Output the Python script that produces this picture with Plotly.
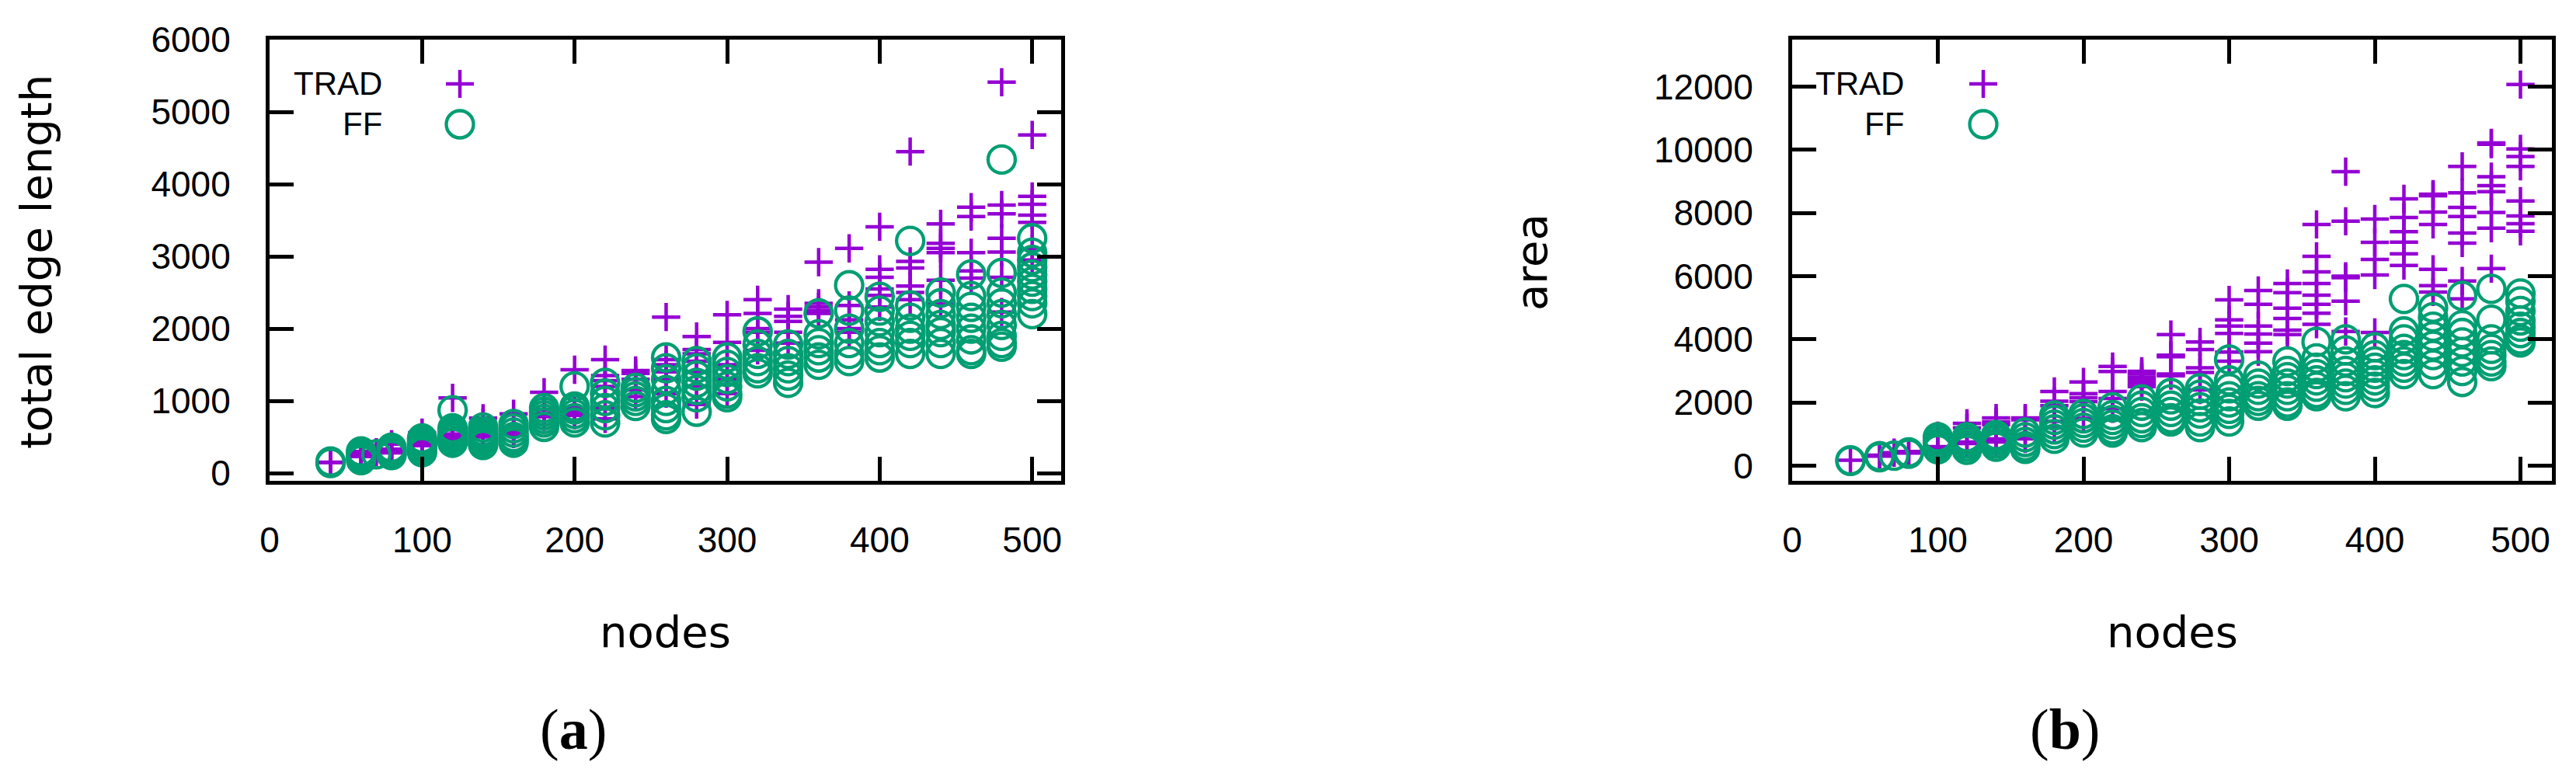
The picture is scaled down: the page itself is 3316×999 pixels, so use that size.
import plotly.graph_objects as go

W, H = 3316, 999
OFF = 8  # the page body margin shifts the figure by this much
FW, FH = W - 2 * OFF, H - 2 * OFF
PURPLE = "#9400d3"
GREEN = "#009e73"
TICK_FONT = "Liberation Sans, Arial, sans-serif"
TITLE_FONT = "DejaVu Sans, sans-serif"

# node counts of the test graphs (one column of points per value)
nodes = [40, 60, 70, 80, 100, 120, 140, 160, 180, 200, 220, 240, 260,
         280, 300, 320, 340, 360, 380, 400, 420, 440, 460, 480, 500]

# (a) total edge length, one list per node count
edge_trad = [
    [150, 145], [230, 250, 270, 300], [290], [280, 300, 330, 400],
    [380, 400, 420, 450, 560], [1040, 600, 540, 520, 500, 480],
    [760, 700, 540, 520, 500], [820, 600, 580, 560, 540],
    [1120, 880, 830, 800, 780], [1430, 900, 870, 830, 800],
    [1570, 1350, 1280, 1200, 900, 750], [1420, 1380, 1300, 1150, 1060],
    [2160, 1570, 1500, 1400, 1300, 1100], [1890, 1710, 1650, 1550, 1400, 1200, 950],
    [2190, 1810, 1500, 1300, 1100], [2400, 2210, 2000, 1950, 1700],
    [2270, 2170, 2100, 1950, 1800], [2920, 2350, 2300, 2250, 2210],
    [3110, 2320, 2120, 2000, 1950], [3410, 2820, 2710, 2550, 2460, 2300],
    [4450, 2930, 2840, 2590, 2500, 2400], [3450, 3180, 3110, 3050, 2670, 2340],
    [3680, 3550, 3050, 2800, 2700], [5410, 3710, 3590, 3250, 3060, 2710, 2230],
    [4680, 3830, 3720, 3570, 3470, 3100, 2950],
]
edge_ff = [
    [140, 160], [180, 220, 250, 280, 300], [260], [250, 280, 320, 350],
    [290, 330, 370, 400, 440, 480], [870, 420, 460, 500, 540, 580, 620],
    [390, 420, 460, 500, 540, 580, 630], [420, 460, 500, 560, 620, 680],
    [640, 700, 750, 800, 850, 900], [1200, 700, 760, 820, 880, 920],
    [1250, 1100, 1000, 900, 800, 700], [930, 1000, 1060, 1120, 1180],
    [1600, 1450, 1300, 1150, 1000, 900, 800, 750],
    [1550, 1450, 1350, 1250, 1150, 1050, 850],
    [1600, 1500, 1400, 1300, 1200, 1100, 1050],
    [1960, 1780, 1650, 1550, 1450, 1380], [1780, 1650, 1550, 1450, 1350, 1250],
    [2210, 1920, 1800, 1700, 1600, 1500], [2600, 2250, 2000, 1800, 1650, 1550],
    [2440, 2250, 2100, 1950, 1800, 1700, 1600],
    [3215, 2320, 2150, 2000, 1900, 1800, 1650],
    [2500, 2350, 2200, 2050, 1950, 1800, 1650],
    [2750, 2450, 2300, 2150, 2000, 1850, 1700, 1650],
    [4340, 2770, 2500, 2350, 2200, 2050, 1900, 1800, 1750],
    [3250, 3050, 2950, 2850, 2750, 2650, 2550, 2450, 2350, 2200],
]

# (b) area
area_trad = [
    [170], [300, 330], [410], [400, 450], [950, 600, 560, 520],
    [1340, 1200, 750, 700], [1510, 1390, 1300, 850, 750], [1510, 1450, 900, 850],
    [2350, 2040, 1900, 1400, 1200], [2650, 2280, 2150, 2030, 1500],
    [3140, 2980, 2350, 2130, 1800], [2990, 2900, 2800, 2700, 2600, 2500],
    [4150, 3500, 3450, 2900, 2850], [3920, 3680, 3100, 2950, 2400],
    [5250, 4620, 4420, 4190, 3600, 3310], [5550, 5110, 4420, 4170, 3880, 3610],
    [5770, 5480, 4990, 4660, 4290, 4150],
    [7640, 6630, 6140, 5770, 5400, 5110, 4830, 4480],
    [9310, 7740, 6000, 5950, 5210, 4250], [7810, 7070, 6530, 6040, 4220],
    [8450, 7860, 7410, 7080, 6710, 6340],
    [8600, 8550, 8030, 7640, 6220, 5700, 5500],
    [9480, 8640, 8180, 7890, 7370, 7050, 5850, 5280],
    [10220, 10180, 9150, 8870, 8680, 8020, 7520, 6240],
    [12070, 10030, 9790, 9480, 8380, 7910, 7660, 7420],
]
area_ff = [
    [170, 150], [270, 300], [315], [380, 420], [520, 600, 700, 800, 900],
    [500, 600, 700, 800, 900], [600, 700, 800, 900, 970], [530, 620, 750, 900, 1050],
    [1590, 1450, 1300, 1150, 1000, 850], [1640, 1500, 1350, 1200, 1050],
    [1850, 1600, 1450, 1300, 1150, 1050], [2100, 1900, 1700, 1500, 1350, 1220],
    [2300, 2100, 1900, 1700, 1500, 1400],
    [2450, 2250, 2050, 1850, 1650, 1400, 1220],
    [3360, 2700, 2450, 2200, 2000, 1800, 1640, 1400],
    [2850, 2600, 2400, 2200, 2050, 1900],
    [3300, 3000, 2800, 2600, 2400, 2200, 2000, 1900],
    [3920, 3400, 3100, 2900, 2700, 2500, 2300, 2200],
    [4000, 3650, 3300, 3000, 2800, 2600, 2400, 2200],
    [3750, 3500, 3300, 3100, 2900, 2700, 2500, 2300],
    [5280, 4250, 4000, 3700, 3500, 3300, 3100, 2900],
    [5000, 4700, 4400, 4100, 3800, 3500, 3200, 2900],
    [5380, 4450, 4200, 3900, 3600, 3300, 3000, 2650],
    [5600, 4620, 4000, 3700, 3500, 3300, 3150],
    [5450, 5200, 4900, 4600, 4400, 4200, 4000, 3900],
]

series_names = ["TRAD", "FF"]
x_ticks = [0, 100, 200, 300, 400, 500]
edge_ticks = [0, 1000, 2000, 3000, 4000, 5000, 6000]
area_ticks = [0, 2000, 4000, 6000, 8000, 10000, 12000]


def flatten(values):
    xs, ys = [], []
    for n, col in zip(nodes, values):
        xs += [n] * len(col)
        ys += col
    return xs, ys


# screen pixel -> paper fraction
def px(x):
    return (x - OFF) / FW


def py(y):
    return 1 - (y - OFF) / FH


trad_marker = dict(symbol="cross-thin", size=26, color=PURPLE,
                   line=dict(width=4.5, color=PURPLE))
ff_marker = dict(symbol="circle-open", size=35, color=GREEN,
                 line=dict(width=4.3, color=GREEN))

fig = go.Figure()
for vals, marker, xa, ya in [(edge_trad, trad_marker, "x", "y"),
                             (edge_ff, ff_marker, "x", "y"),
                             (area_trad, trad_marker, "x2", "y2"),
                             (area_ff, ff_marker, "x2", "y2")]:
    xs, ys = flatten(vals)
    fig.add_trace(go.Scatter(x=xs, y=ys, mode="markers", marker=marker,
                             xaxis=xa, yaxis=ya, showlegend=False,
                             cliponaxis=False))

axis_common = dict(
    showline=True, linewidth=5, linecolor="black", mirror="ticks",
    ticks="inside", ticklen=31, tickwidth=5, tickcolor="black",
    showgrid=False, zeroline=False, automargin=False,
    tickfont=dict(family=TICK_FONT, size=46, color="black"),
)


def ticks(vals):
    return dict(tickvals=vals, ticktext=[str(v) for v in vals])


# plot boxes on screen: left 347..1366, right 2307..3285, both 51..619 vertically
fig.update_layout(
    width=FW, height=FH, autosize=False,
    margin=dict(l=0, r=0, t=0, b=0, pad=0, autoexpand=False),
    paper_bgcolor="white", plot_bgcolor="white",
    xaxis=dict(axis_common, domain=[px(347), px(1366)], range=[0, 519],
               anchor="y", ticklabelstandoff=32, **ticks(x_ticks)),
    yaxis=dict(axis_common, domain=[py(619), py(51)], range=[-107, 6000],
               anchor="x", ticklabelstandoff=36, **ticks(edge_ticks)),
    xaxis2=dict(axis_common, domain=[px(2307), px(3285)], range=[0, 521.6],
                anchor="y2", ticklabelstandoff=32, **ticks(x_ticks)),
    yaxis2=dict(axis_common, domain=[py(619), py(51)], range=[-480, 13493],
                anchor="x2", ticklabelstandoff=36, **ticks(area_ticks)),
)

annotations = []
shapes = []


def text(t, x, y, size, family=TITLE_FONT, angle=0, xanchor="center"):
    annotations.append(dict(text=t, x=px(x), y=py(y), xref="paper", yref="paper",
                            showarrow=False, textangle=angle, xanchor=xanchor,
                            yanchor="middle",
                            font=dict(family=family, size=size, color="black")))


# axis titles
text("nodes", 856, 813, 56)
text("nodes", 2796, 813, 56)
text("total edge length", 47, 337, 56, angle=-90)
text("area", 1972, 337, 56, angle=-90)

# sub-figure captions
text("(<b>a</b>)", 738, 939, 74, family="Liberation Serif, serif")
text("(<b>b</b>)", 2658, 939, 74, family="Liberation Serif, serif")

# keys: label right-aligned, symbol to its right
for text_right, sym_x in [(494, 592), (2453, 2553)]:
    for name, cy in zip(series_names, [108, 160]):
        text(name, text_right, cy, 42, family=TICK_FONT, xanchor="right")
    cy = 108
    shapes.append(dict(type="line", xref="paper", yref="paper",
                       x0=px(sym_x - 18), x1=px(sym_x + 18), y0=py(cy), y1=py(cy),
                       line=dict(color=PURPLE, width=4.5)))
    shapes.append(dict(type="line", xref="paper", yref="paper",
                       x0=px(sym_x), x1=px(sym_x), y0=py(cy - 18), y1=py(cy + 18),
                       line=dict(color=PURPLE, width=4.5)))
    cy = 160
    shapes.append(dict(type="circle", xref="paper", yref="paper",
                       x0=px(sym_x - 17.5), x1=px(sym_x + 17.5),
                       y0=py(cy + 17.5), y1=py(cy - 17.5),
                       line=dict(color=GREEN, width=4.3)))

fig.update_layout(annotations=annotations, shapes=shapes)

fig.write_html("out.html")
